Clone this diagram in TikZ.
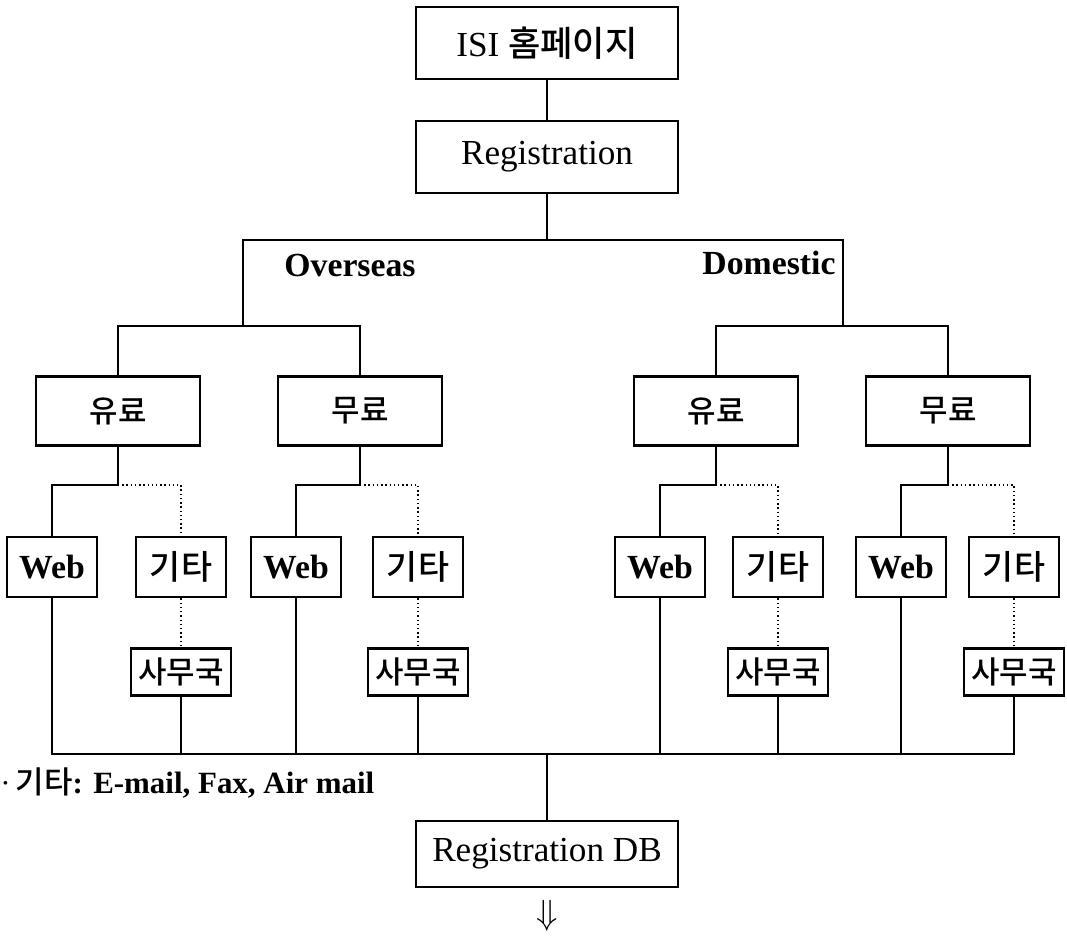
\documentclass[tikz,border=0pt]{standalone}
\usepackage{fontspec}
\setmainfont{Liberation Serif}
\newfontfamily\kr{Noto Sans CJK KR}[UprightFont=* Medium]
\usetikzlibrary{positioning}

\begin{document}
\begin{tikzpicture}[x=0.025cm, y=-0.025cm,
  box/.style={draw, line width=2pt, minimum width=6.55cm, minimum height=1.8cm,
              font=\fontsize{25}{29}\selectfont},
  feebox/.style={draw, line width=2pt, minimum width=4.1cm, minimum height=1.72cm,
              font=\kr\fontsize{22}{26}\selectfont},
  chan/.style={draw, line width=2pt, minimum width=2.25cm, minimum height=1.5cm,
              inner sep=1pt, font=\bfseries\fontsize{24}{28}\selectfont},
  office/.style={draw, line width=2pt, minimum width=2.5cm, minimum height=1.18cm,
              inner sep=1pt, font=\kr\fontsize{22}{26}\selectfont},
  side/.style={font=\bfseries\fontsize{24}{28}\selectfont},
  edge/.style={line width=2pt},
  dots/.style={line width=1pt, dotted},
]
\useasboundingbox (0,0) rectangle (1067,938);

\node[box] (home) at (547,43) {ISI {\kr 홈페이지}};
\node[box] (reg) at (547,157) {Registration};
\draw[edge] (home) -- (reg);

% Overseas / Domestic split
\coordinate (split) at (547,240);
\coordinate (ovsJ) at (243,326);
\coordinate (domJ) at (843,326);
\node[side] (ovs) at (350,265) {Overseas};
\node[side] (dom) at (769,263) {Domestic};
\draw[edge] (reg) -- (split);
\draw[edge] (ovsJ) |- (split) -| (domJ);

\node[feebox] (pay1) at (118,411) {유료};
\node[feebox] (free1) at (360,411) {무료};
\node[feebox] (pay2) at (716,411) {유료};
\node[feebox] (free2) at (948,411) {무료};
\draw[edge] (pay1) |- (ovsJ) -| (free1);
\draw[edge] (pay2) |- (domJ) -| (free2);

% channels
\node[chan] (web1) at (52,567) {Web};
\node[chan] (etc1) at (181,567) {\kr\mdseries 기타};
\node[office] (off1) at (181,672) {사무국};
\node[chan] (web2) at (296,567) {Web};
\node[chan] (etc2) at (418,567) {\kr\mdseries 기타};
\node[office] (off2) at (418,672) {사무국};
\node[chan] (web3) at (660,567) {Web};
\node[chan] (etc3) at (778,567) {\kr\mdseries 기타};
\node[office] (off3) at (778,672) {사무국};
\node[chan] (web4) at (901,567) {Web};
\node[chan] (etc4) at (1014,567) {\kr\mdseries 기타};
\node[office] (off4) at (1014,672) {사무국};

\coordinate (j1) at (118,485);
\coordinate (j2) at (360,485);
\coordinate (j3) at (716,485);
\coordinate (j4) at (948,485);
\draw[edge] (pay1) -- (j1) -| (web1);
\draw[edge] (free1) -- (j2) -| (web2);
\draw[edge] (pay2) -- (j3) -| (web3);
\draw[edge] (free2) -- (j4) -| (web4);
\draw[dots] (j1) -| (etc1);
\draw[dots] (j2) -| (etc2);
\draw[dots] (j3) -| (etc3);
\draw[dots] (j4) -| (etc4);
\draw[dots] (etc1) -- (off1);
\draw[dots] (etc2) -- (off2);
\draw[dots] (etc3) -- (off3);
\draw[dots] (etc4) -- (off4);

% merge into DB
\coordinate (merge) at (547,754);
\node[box, minimum height=1.65cm] (db) at (547,854) {Registration DB};
\draw[edge] (web1) |- (merge) -| (off4);
\draw[edge] (off1) -- (off1 |- merge);
\draw[edge] (web2) -- (web2 |- merge);
\draw[edge] (off2) -- (off2 |- merge);
\draw[edge] (web3) -- (web3 |- merge);
\draw[edge] (off3) -- (off3 |- merge);
\draw[edge] (web4) -- (web4 |- merge);
\draw[edge] (merge) -- (db);
\node[font=\fontsize{24}{28}\selectfont] (out) at (547,916) {$\Downarrow$};

\node[side, font=\bfseries\fontsize{22}{26}\selectfont, anchor=west, inner sep=0pt] (note) at (0,783)
  {\textmd{·}\,{\kr\mdseries 기타}: E-mail, Fax, Air mail};

\end{tikzpicture}
\end{document}
